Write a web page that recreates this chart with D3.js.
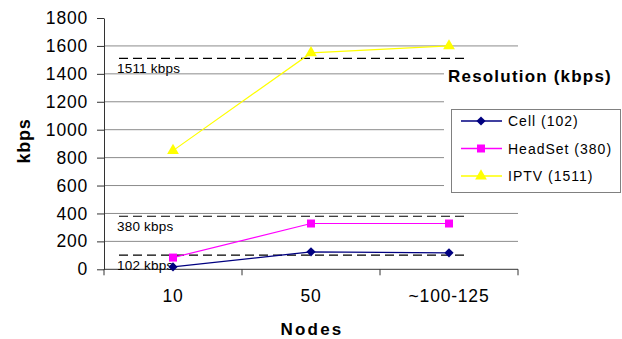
<!DOCTYPE html>
<html>
<head>
<meta charset="utf-8">
<script src="https://cdn.jsdelivr.net/npm/d3@7"></script>
<style>
  html, body { margin: 0; padding: 0; background: #fff; }
  svg { display: block; font-family: "Liberation Sans", Arial, sans-serif; }
</style>
</head>
<body>
<svg id="chart" width="622" height="339"></svg>
<script>
// Node counts on the x axis
const categories = ["10", "50", "~100-125"];
// Measured throughput per device type (kbps)
const cellValues = [17, 125, 118];
const headsetValues = [84, 328, 328];
const iptvValues = [850, 1550, 1600];
// Required resolution bit-rates (kbps)
const thresholds = [1511, 380, 102];
const thresholdLabels = ["1511 kbps", "380 kbps", "102 kbps"];
const yTicks = [0, 200, 400, 600, 800, 1000, 1200, 1400, 1600, 1800];
const seriesNames = ["Cell (102)", "HeadSet (380)", "IPTV (1511)"];

const svg = d3.select("#chart");
const plotLeft = 104, plotRight = 518, plotTop = 18, plotBottom = 269.3;

const x = d3.scaleBand().domain(categories).range([plotLeft, plotRight]).padding(0);
const y = d3.scaleLinear().domain([0, 1800]).range([plotBottom, plotTop]);
const cx = c => x(c) + x.bandwidth() / 2;

// Horizontal gridlines
svg.append("g").selectAll("line")
  .data(yTicks.filter(v => v > 0 && v < 1800))
  .join("line")
  .attr("x1", plotLeft).attr("x2", plotRight)
  .attr("y1", d => y(d)).attr("y2", d => y(d))
  .attr("stroke", "#8c8c8c").attr("stroke-width", 1);

// Y axis
const yAxis = svg.append("g")
  .attr("transform", `translate(${plotLeft},0)`)
  .call(d3.axisLeft(y).tickValues(yTicks).tickFormat(d3.format("d"))
    .tickSize(7).tickPadding(9).tickSizeOuter(0));
yAxis.select(".domain").attr("stroke", "#333");
yAxis.selectAll(".tick line").attr("stroke", "#333");
yAxis.selectAll("text")
  .attr("font-size", 17.5).attr("letter-spacing", "0.8px")
  .attr("fill", "#000").attr("font-family", "Liberation Sans, Arial, sans-serif");

// X axis with ticks on category boundaries
const xAxisG = svg.append("g").attr("transform", `translate(0,${plotBottom})`);
xAxisG.append("line").attr("x1", plotLeft).attr("x2", plotRight).attr("y1", 0).attr("y2", 0)
  .attr("stroke", "#333");
const bounds = categories.map(c => x(c)).concat([x(categories[categories.length - 1]) + x.bandwidth()]);
xAxisG.selectAll("line.tk").data(bounds).join("line").attr("class", "tk")
  .attr("x1", d => d).attr("x2", d => d).attr("y1", 0).attr("y2", 6)
  .attr("stroke", "#333");
xAxisG.selectAll("text").data(categories).join("text")
  .attr("x", d => cx(d)).attr("y", 33)
  .attr("text-anchor", "middle").attr("font-size", 17.5).attr("letter-spacing", "0.8px")
  .text(d => d);

// Axis titles
svg.append("text")
  .attr("transform", "translate(30,141) rotate(-90)")
  .attr("text-anchor", "middle").attr("font-size", 18).attr("font-weight", "bold")
  .attr("letter-spacing", "0.8px")
  .text("kbps");
svg.append("text")
  .attr("x", 312).attr("y", 335)
  .attr("text-anchor", "middle").attr("font-size", 17).attr("font-weight", "bold")
  .attr("letter-spacing", "2.2px")
  .text("Nodes");

// Threshold dashed lines and labels
const thr = svg.append("g");
thr.selectAll("line").data(thresholds).join("line")
  .attr("x1", 119).attr("x2", 468)
  .attr("y1", d => y(d)).attr("y2", d => y(d))
  .attr("stroke", "#000").attr("stroke-width", 1.2)
  .attr("stroke-dasharray", "9,5");
thr.selectAll("text").data(thresholds).join("text")
  .attr("x", 117).attr("y", d => y(d) + 15)
  .attr("font-size", 13.5).attr("letter-spacing", "0.2px")
  .text((d, i) => thresholdLabels[i]);

// White area behind legend title and legend box
svg.append("rect").attr("x", 444).attr("y", 64).attr("width", 178).attr("height", 135)
  .attr("fill", "#fff");

// Series (the diamond is a square turned 45 degrees)
const series = [
  { name: seriesNames[0], values: cellValues, color: "#000080", shape: d3.symbolSquare, size: 42, rot: 45, w: 1.3 },
  { name: seriesNames[1], values: headsetValues, color: "#ff00ff", shape: d3.symbolSquare, size: 64, rot: 0, w: 1.2 },
  { name: seriesNames[2], values: iptvValues, color: "#ffff00", shape: d3.symbolTriangle, size: 60, rot: 0, w: 1.2 }
];
const line = d3.line().x(d => cx(d.c)).y(d => y(d.v));
series.forEach(s => {
  const pts = categories.map((c, i) => ({ c, v: s.values[i] }));
  const g = svg.append("g");
  g.append("path").datum(pts).attr("d", line)
    .attr("fill", "none").attr("stroke", s.color).attr("stroke-width", s.w);
  g.selectAll("path.m").data(pts).join("path").attr("class", "m")
    .attr("transform", d => `translate(${cx(d.c)},${y(d.v)}) rotate(${s.rot})`)
    .attr("d", d3.symbol().type(s.shape).size(s.size))
    .attr("fill", s.color);
});

// Legend
svg.append("text").attr("x", 448).attr("y", 82)
  .attr("font-size", 17).attr("font-weight", "bold").attr("letter-spacing", "1.2px")
  .text("Resolution (kbps)");
svg.append("rect").attr("x", 451.5).attr("y", 109.5).attr("width", 169).attr("height", 83)
  .attr("fill", "#fff").attr("stroke", "#808080").attr("stroke-width", 1);
const leg = svg.append("g").selectAll("g").data(series).join("g")
  .attr("transform", (d, i) => `translate(0,${121 + i * 27.5})`);
leg.append("line").attr("x1", 461).attr("x2", 502).attr("y1", 0).attr("y2", 0)
  .attr("stroke", d => d.color).attr("stroke-width", 1.3);
leg.append("path").attr("transform", d => `translate(481,0) rotate(${d.rot})`)
  .attr("d", d => d3.symbol().type(d.shape).size(d.size)())
  .attr("fill", d => d.color);
leg.append("text").attr("x", 508).attr("y", 5)
  .attr("font-size", 14).attr("letter-spacing", "1px")
  .text(d => d.name);
</script>
</body>
</html>
